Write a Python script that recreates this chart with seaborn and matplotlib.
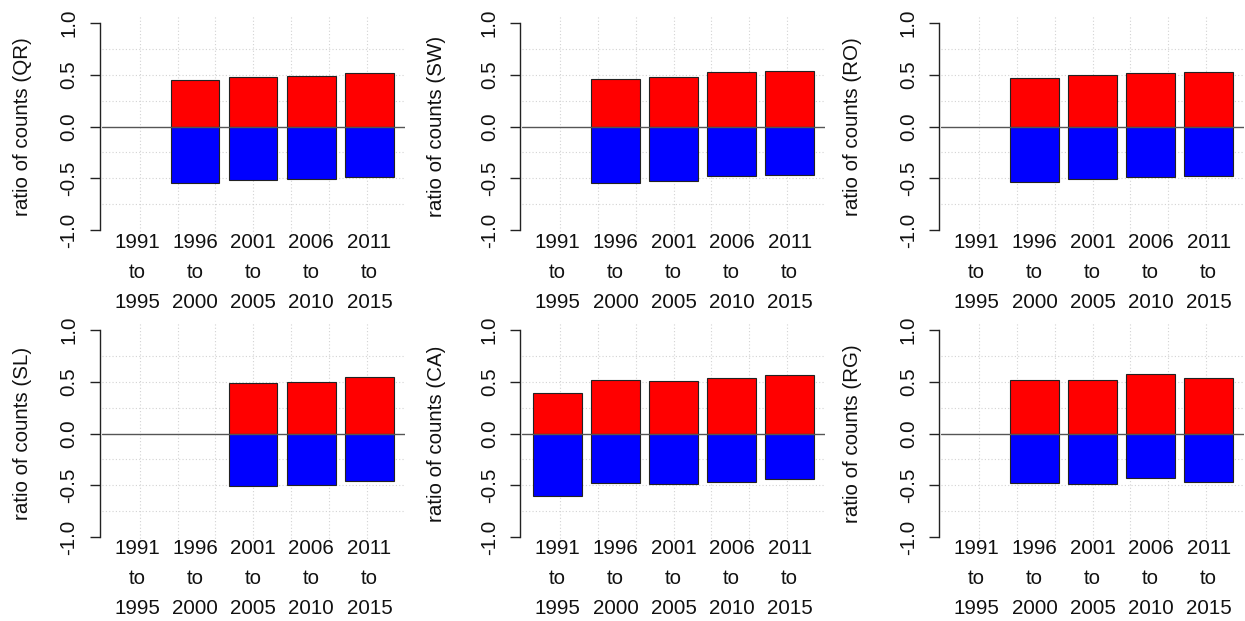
import numpy as np
import pandas as pd
import matplotlib
matplotlib.use("Agg")
import matplotlib.pyplot as plt
import seaborn as sns

periods = ["1991\nto\n1995", "1996\nto\n2000", "2001\nto\n2005", "2006\nto\n2010", "2011\nto\n2015"]
regions = ["QR", "SW", "RO", "SL", "CA", "RG"]

nan = np.nan
pos_QR = [nan, 0.45, 0.48, 0.49, 0.515]
neg_QR = [nan, -0.55, -0.52, -0.51, -0.485]
pos_SW = [nan, 0.46, 0.475, 0.53, 0.54]
neg_SW = [nan, -0.545, -0.53, -0.48, -0.465]
pos_RO = [nan, 0.465, 0.495, 0.515, 0.525]
neg_RO = [nan, -0.535, -0.505, -0.485, -0.475]
pos_SL = [nan, nan, 0.49, 0.50, 0.55]
neg_SL = [nan, nan, -0.51, -0.50, -0.455]
pos_CA = [0.395, 0.52, 0.51, 0.535, 0.565]
neg_CA = [-0.605, -0.48, -0.49, -0.465, -0.435]
pos_RG = [nan, 0.52, 0.515, 0.57, 0.535]
neg_RG = [nan, -0.48, -0.485, -0.43, -0.465]

pos_vals = {"QR": pos_QR, "SW": pos_SW, "RO": pos_RO, "SL": pos_SL, "CA": pos_CA, "RG": pos_RG}
neg_vals = {"QR": neg_QR, "SW": neg_SW, "RO": neg_RO, "SL": neg_SL, "CA": neg_CA, "RG": neg_RG}

sns.set_theme(style="white")
plt.rcParams["font.family"] = ["Liberation Sans", "DejaVu Sans"]

W, H = 1245, 621
fig = plt.figure(figsize=(W / 100, H / 100), dpi=100)

col_left = [101.8, 522, 941]
ax_w = 303
row_top = [14.7, 321.7]
ax_h = 223.6
fs = 14.8
tc = "#111111"

for i, reg in enumerate(regions):
    r, c = divmod(i, 3)
    ax = fig.add_axes([col_left[c] / W, (H - row_top[r] - ax_h) / H, ax_w / W, ax_h / H])
    df = pd.DataFrame({"period": periods, "pos": pos_vals[reg], "neg": neg_vals[reg]})
    xlim = (-0.61, 4.61)
    # grid
    for k in range(1, 8):
        ax.axvline(xlim[0] + k * (xlim[1] - xlim[0]) / 8, color="#d3d3d3", lw=0.8,
                   ls=(0, (1, 2)), zorder=0)
    for yv in [-0.75, -0.5, -0.25, 0.25, 0.5, 0.75]:
        ax.axhline(yv, color="#d3d3d3", lw=0.8, ls=(0, (1, 2)), zorder=0)
    sns.barplot(data=df, x="period", y="pos", order=periods, color="#ff0000",
                saturation=1, width=1 / 1.2, edgecolor="#222222", linewidth=0.8,
                errorbar=None, ax=ax, zorder=2)
    sns.barplot(data=df, x="period", y="neg", order=periods, color="#0000ff",
                saturation=1, width=1 / 1.2, edgecolor="#222222", linewidth=0.8,
                errorbar=None, ax=ax, zorder=2)
    ax.axhline(0, color="#555555", lw=1.0, zorder=3)
    ax.set_xlim(*xlim)
    ax.set_ylim(-1.08, 1.08)
    for s in ["top", "right", "bottom"]:
        ax.spines[s].set_visible(False)
    ax.spines["left"].set_bounds(-1, 1)
    ax.spines["left"].set_color("#222222")
    ax.spines["left"].set_linewidth(1.0)
    ax.spines["left"].set_position(("outward", 1.5))
    ax.set_yticks([-1, -0.5, 0, 0.5, 1])
    ax.set_yticklabels(["-1.0", "-0.5", "0.0", "0.5", "1.0"], rotation=90,
                       va="center", fontsize=fs, color=tc)
    ax.tick_params(axis="y", direction="out", length=7.2, width=1.0, color="#222222",
                   pad=8, left=True)
    ax.set_xticks(range(5))
    ax.set_xticklabels([])
    ax.tick_params(axis="x", length=0)
    for j, p in enumerate(periods):
        for li, part in enumerate(p.split("\n")):
            ax.annotate(part, xy=(j, 0), xycoords=("data", "axes fraction"),
                        xytext=(0, -(3.7 + 30 * li) * 0.72), textcoords="offset points",
                        ha="center", va="center", fontsize=fs, color=tc)
    ax.set_xlabel("")
    ax.set_ylabel(f"ratio of counts ({reg})", fontsize=fs, color=tc, va="center")
    ax.yaxis.set_label_coords((22 - col_left[c] + (c * 415)) / ax_w, 0.5)
    ax.set_facecolor("white")

fig.savefig("out.png", dpi=100, facecolor="white")
